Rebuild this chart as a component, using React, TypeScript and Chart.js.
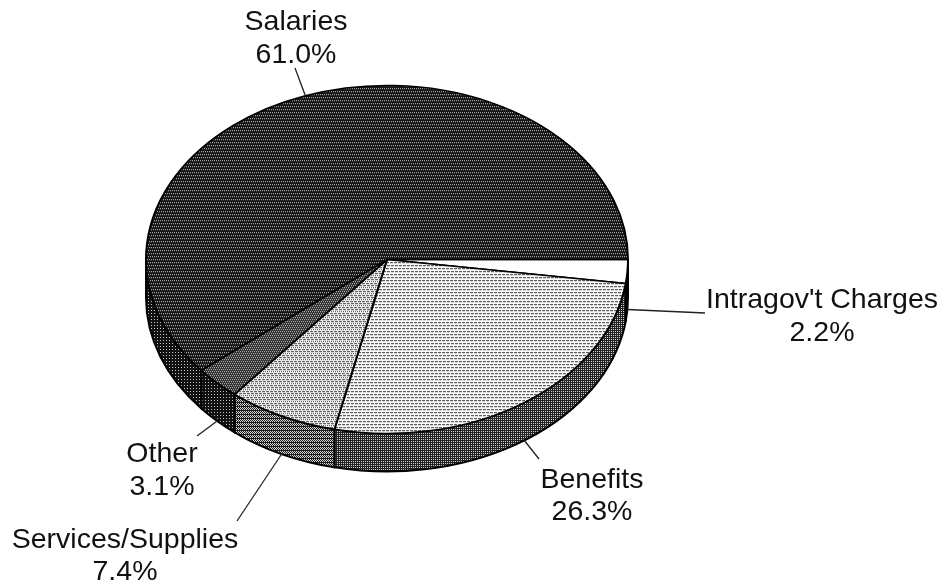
import React, { useEffect, useRef } from "react";
import { Chart, registerables } from "chart.js";

Chart.register(...registerables);

const categories = ["Intragov't Charges", "Benefits", "Services/Supplies", "Other", "Salaries"];
const values = [2.2, 26.3, 7.4, 3.1, 61.0];

// Halftone bitmaps: '#' = ink, '.' = paper
const faceBitmaps = [
  { ink: "#ffffff", paper: "#ffffff", rows: ["."] },
  { ink: "#3a3a3a", paper: "#fafafa", rows: ["....", "##.#", "....", "....", "#.##", "...."] },
  { ink: "#444444", paper: "#f6f6f6", rows: ["....", "#.##", "....", "##.#", "....", ".#.#"] },
  { ink: "#2c2c2c", paper: "#c8c8c8", rows: ["####", "#.#.", "####", ".#.#"] },
  { ink: "#161616", paper: "#c4c4c4", rows: ["####", "#.#.", "####", "####", ".#.#", "####"] },
];
const wallBitmaps = [
  { ink: "#222222", paper: "#cccccc", rows: ["##", "#."] },
  { ink: "#222222", paper: "#d0d0d0", rows: ["##", "#."] },
  { ink: "#1c1c1c", paper: "#d8d8d8", rows: ["#.", ".#", "##", ".#"] },
  { ink: "#111111", paper: "#c0c0c0", rows: ["###", "#.#", "###"] },
  { ink: "#111111", paper: "#c8c8c8", rows: ["###", "#.#", "###"] },
];

// Label layout: centre x, baselines of name and percent, and leader end
const labelLayout = [
  { x: 822, y1: 308, y2: 341, endX: 705, endY: 313 },
  { x: 592, y1: 488, y2: 520, endX: 539, endY: 459 },
  { x: 125, y1: 548, y2: 580, endX: 237, endY: 521 },
  { x: 162, y1: 462, y2: 495, endX: 197, endY: 436 },
  { x: 296, y1: 30, y2: 63, endX: 295, endY: 68 },
];

const TILT = 0.722;
const DEPTH = 38;
const FONT = '28.5px "Liberation Sans", Arial, sans-serif';

function makePattern(ctx: CanvasRenderingContext2D, b: { ink: string; paper: string; rows: string[] }, yScale: number) {
  const c = document.createElement("canvas");
  c.width = b.rows[0].length;
  c.height = b.rows.length;
  const p = c.getContext("2d")!;
  p.fillStyle = b.paper;
  p.fillRect(0, 0, c.width, c.height);
  p.fillStyle = b.ink;
  b.rows.forEach((r, y) => {
    for (let x = 0; x < r.length; x++) if (r[x] === "#") p.fillRect(x, y, 1, 1);
  });
  const pat = ctx.createPattern(c, "repeat")!;
  pat.setTransform(new DOMMatrix().scale(1, yScale));
  return pat;
}

export default function App() {
  const ref = useRef<HTMLCanvasElement>(null);
  useEffect(() => {
    document.body.style.margin = "0";
    document.body.style.background = "#fff";
    const ctx0 = ref.current!.getContext("2d")!;
    const faces = faceBitmaps.map((b) => makePattern(ctx0, b, 1 / TILT));
    const walls = wallBitmaps.map((b) => makePattern(ctx0, b, 1));

    const tiltPlugin = {
      id: "tilt3d",
      beforeDatasetsDraw(chart: any) {
        const ctx = chart.ctx as CanvasRenderingContext2D;
        const arcs = chart.getDatasetMeta(0).data;
        ctx.save();
        arcs.forEach((arc: any, i: number) => {
          const a0 = Math.max(arc.startAngle, 0);
          const a1 = Math.min(arc.endAngle, Math.PI);
          if (a1 <= a0) return;
          const rx = arc.outerRadius;
          const ry = rx * TILT;
          ctx.beginPath();
          ctx.ellipse(arc.x, arc.y, rx, ry, 0, a0, a1);
          ctx.ellipse(arc.x, arc.y + DEPTH, rx, ry, 0, a1, a0, true);
          ctx.closePath();
          ctx.fillStyle = walls[i];
          ctx.fill();
          ctx.strokeStyle = "#000";
          ctx.lineWidth = 2;
          ctx.stroke();
        });
        ctx.restore();
        const { x, y } = arcs[0];
        ctx.save();
        ctx.translate(x, y);
        ctx.scale(1, TILT);
        ctx.translate(-x, -y);
      },
      afterDatasetsDraw(chart: any) {
        const ctx = chart.ctx as CanvasRenderingContext2D;
        ctx.restore();
        const arcs = chart.getDatasetMeta(0).data;
        ctx.save();
        ctx.fillStyle = "#111";
        ctx.strokeStyle = "#222";
        ctx.lineWidth = 1.3;
        ctx.font = FONT;
        ctx.textAlign = "center";
        ctx.textBaseline = "alphabetic";
        arcs.forEach((arc: any, i: number) => {
          const mid = (arc.startAngle + arc.endAngle) / 2;
          const sx = arc.x + arc.outerRadius * Math.cos(mid);
          let sy = arc.y + arc.outerRadius * TILT * Math.sin(mid);
          if (Math.sin(mid) > 0) sy += DEPTH;
          const l = labelLayout[i];
          ctx.beginPath();
          ctx.moveTo(sx, sy);
          ctx.lineTo(l.endX, l.endY);
          ctx.stroke();
          ctx.fillText(categories[i], l.x, l.y1);
          ctx.fillText(values[i].toFixed(1) + "%", l.x, l.y2);
        });
        ctx.restore();
      },
    };

    const chart = new Chart(ref.current!, {
      type: "pie",
      data: {
        labels: categories,
        datasets: [
          {
            data: values,
            backgroundColor: faces,
            borderColor: "#000",
            borderWidth: 2,
            clip: false,
          } as any,
        ],
      },
      options: {
        responsive: false,
        animation: false,
        rotation: 90,
        layout: { padding: { left: 145, right: 317, top: 17.5, bottom: 86.5 } },
        plugins: { legend: { display: false }, tooltip: { enabled: false } },
      },
      plugins: [tiltPlugin],
    } as any);
    return () => chart.destroy();
  }, []);
  return <canvas ref={ref} width={946} height={588} style={{ display: "block" }} />;
}
